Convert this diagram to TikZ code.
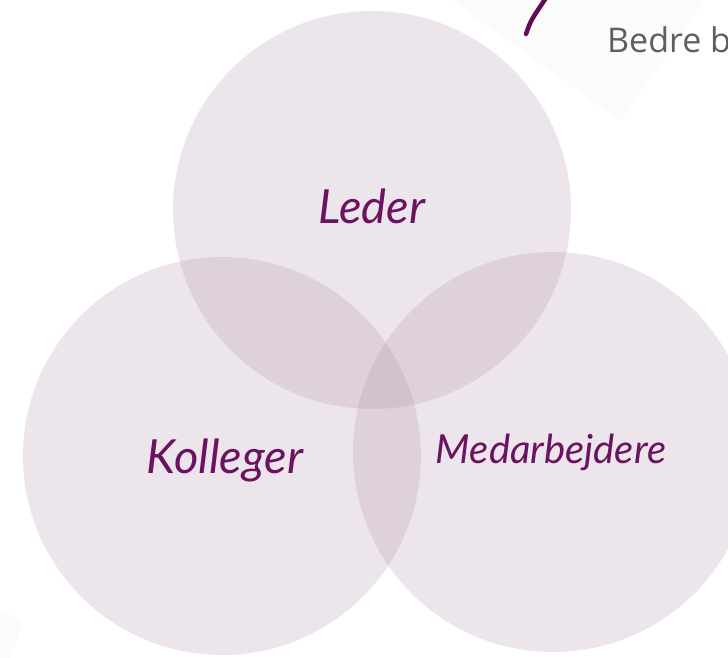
\documentclass[tikz,border=0pt]{standalone}
\usepackage{fontspec}
\setmainfont{Lato}
\newfontfamily\notefont{Open Sans}
\definecolor{vennfill}{RGB}{173,141,164}
\definecolor{labelcol}{RGB}{107,18,96}
\definecolor{paper}{RGB}{251,251,252}
\definecolor{penstroke}{RGB}{94,14,87}
\definecolor{notegray}{RGB}{95,95,95}
\begin{document}
\begin{tikzpicture}[x=1pt,y=-1pt,
  venn/.style={circle, inner sep=0pt, fill=vennfill, fill opacity=0.22},
  vlabel/.style={anchor=base, inner sep=0pt, text=labelcol, font=\itshape\fontsize{47}{52}\selectfont}]
\clip (0,0) rectangle (728,658);
\fill[white] (0,0) rectangle (728,658);
% faint paper shapes
\fill[paper] (452,0) -- (620,121) -- (705,0) -- cycle;
\fill[paper] (0,610) -- (23,622) -- (10,658) -- (0,658) -- cycle;
% pen stroke and note
\coordinate (penA) at (526,34);
\coordinate (penB) at (546,-2);
\draw[penstroke, line width=4.5pt, line cap=round] (penA) .. controls (531,20) .. (penB);
\node[anchor=base west, inner sep=0pt, text=notegray, font=\notefont\fontsize{34}{36}\selectfont] (note) at (607,53) {Bedre b};
% circles
\node[venn, minimum size=398pt] (leder) at (372,210) {};
\node[venn, minimum size=398pt] (kolleger) at (222,456) {};
\node[venn, minimum size=400pt] (medarb) at (553,452) {};
% labels
\node[vlabel] (lederlbl) at (372,223) {Leder};
\node[vlabel] (kollegerlbl) at (225,473) {Kolleger};
\node[vlabel, font=\itshape\fontsize{40}{44}\selectfont] (medarblbl) at (551,463) {Medarbejdere};
\end{tikzpicture}
\end{document}
